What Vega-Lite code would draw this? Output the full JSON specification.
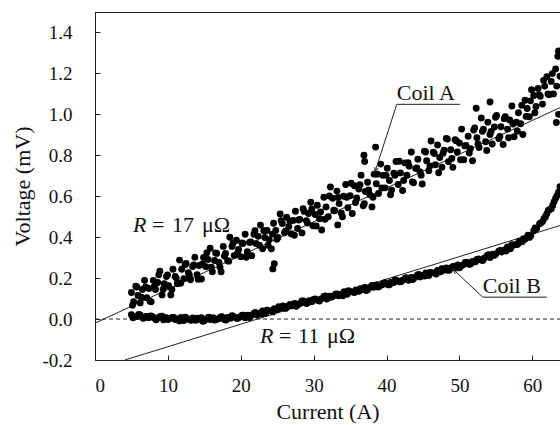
{
  "$schema": "https://vega.github.io/schema/vega-lite/v6.json",
  "width": 465,
  "height": 348,
  "autosize": {"type": "none"},
  "padding": {"left": 95, "top": 12, "right": 0, "bottom": 65},
  "background": "white",
  "config": {
    "view": {"stroke": "#222", "strokeWidth": 1},
    "font": "Liberation Serif",
    "axis": {
      "labelFont": "Liberation Serif",
      "labelFontSize": 19,
      "labelColor": "#111",
      "titleFont": "Liberation Serif",
      "titleFontSize": 22,
      "titleFontWeight": "normal",
      "titleColor": "#111",
      "domainColor": "#222",
      "tickColor": "#222",
      "grid": false,
      "tickSize": -5
    }
  },
  "datasets": {
    "pts": [
      {"coil":"A","x":5.0,"y":0.13},{"coil":"A","x":5.3,"y":0.085},{"coil":"A","x":5.6,"y":0.16},{"coil":"A","x":5.9,"y":0.115},{"coil":"A","x":6.2,"y":0.079},{"coil":"A","x":6.5,"y":0.144},{"coil":"A","x":6.8,"y":0.189},{"coil":"A","x":7.1,"y":0.104},{"coil":"A","x":7.4,"y":0.149},{"coil":"A","x":7.7,"y":0.084},
      {"coil":"A","x":8.0,"y":0.189},{"coil":"A","x":8.3,"y":0.144},{"coil":"A","x":8.6,"y":0.179},{"coil":"A","x":8.9,"y":0.234},{"coil":"A","x":9.2,"y":0.118},{"coil":"A","x":9.5,"y":0.173},{"coil":"A","x":9.8,"y":0.208},{"coil":"A","x":10.1,"y":0.163},{"coil":"A","x":10.4,"y":0.118},{"coil":"A","x":10.7,"y":0.243},
      {"coil":"A","x":11.0,"y":0.208},{"coil":"A","x":11.3,"y":0.173},{"coil":"A","x":11.6,"y":0.288},{"coil":"A","x":11.9,"y":0.243},{"coil":"A","x":12.2,"y":0.197},{"coil":"A","x":12.5,"y":0.272},{"coil":"A","x":12.8,"y":0.227},{"coil":"A","x":13.1,"y":0.192},{"coil":"A","x":13.4,"y":0.257},{"coil":"A","x":13.7,"y":0.302},
      {"coil":"A","x":14.0,"y":0.217},{"coil":"A","x":14.3,"y":0.262},{"coil":"A","x":14.6,"y":0.196},{"coil":"A","x":14.9,"y":0.301},{"coil":"A","x":15.2,"y":0.256},{"coil":"A","x":15.5,"y":0.291},{"coil":"A","x":15.8,"y":0.346},{"coil":"A","x":16.1,"y":0.231},{"coil":"A","x":16.4,"y":0.286},{"coil":"A","x":16.7,"y":0.321},
      {"coil":"A","x":17.0,"y":0.276},{"coil":"A","x":17.3,"y":0.231},{"coil":"A","x":17.6,"y":0.355},{"coil":"A","x":17.9,"y":0.32},{"coil":"A","x":18.2,"y":0.285},{"coil":"A","x":18.5,"y":0.40},{"coil":"A","x":18.8,"y":0.355},{"coil":"A","x":19.1,"y":0.31},{"coil":"A","x":19.4,"y":0.385},{"coil":"A","x":19.7,"y":0.34},
      {"coil":"A","x":20.0,"y":0.305},{"coil":"A","x":20.3,"y":0.369},{"coil":"A","x":20.6,"y":0.414},{"coil":"A","x":20.9,"y":0.329},{"coil":"A","x":21.2,"y":0.374},{"coil":"A","x":21.5,"y":0.309},{"coil":"A","x":21.8,"y":0.414},{"coil":"A","x":22.1,"y":0.369},{"coil":"A","x":22.4,"y":0.404},{"coil":"A","x":22.7,"y":0.459},
      {"coil":"A","x":23.0,"y":0.343},{"coil":"A","x":23.3,"y":0.398},{"coil":"A","x":23.6,"y":0.433},{"coil":"A","x":23.9,"y":0.388},{"coil":"A","x":24.2,"y":0.343},{"coil":"A","x":24.5,"y":0.468},{"coil":"A","x":24.8,"y":0.433},{"coil":"A","x":25.1,"y":0.398},{"coil":"A","x":25.4,"y":0.513},{"coil":"A","x":25.7,"y":0.467},
      {"coil":"A","x":26.0,"y":0.422},{"coil":"A","x":26.3,"y":0.497},{"coil":"A","x":26.6,"y":0.452},{"coil":"A","x":26.9,"y":0.417},{"coil":"A","x":27.2,"y":0.482},{"coil":"A","x":27.5,"y":0.527},{"coil":"A","x":27.8,"y":0.442},{"coil":"A","x":28.1,"y":0.487},{"coil":"A","x":28.4,"y":0.421},{"coil":"A","x":28.7,"y":0.526},
      {"coil":"A","x":29.0,"y":0.481},{"coil":"A","x":29.3,"y":0.516},{"coil":"A","x":29.6,"y":0.571},{"coil":"A","x":29.9,"y":0.456},{"coil":"A","x":30.2,"y":0.511},{"coil":"A","x":30.5,"y":0.556},{"coil":"A","x":30.8,"y":0.49},{"coil":"A","x":31.1,"y":0.435},{"coil":"A","x":31.4,"y":0.595},{"coil":"A","x":31.7,"y":0.548},
      {"coil":"A","x":32.0,"y":0.50},{"coil":"A","x":32.3,"y":0.645},{"coil":"A","x":32.6,"y":0.59},{"coil":"A","x":32.9,"y":0.529},{"coil":"A","x":33.2,"y":0.625},{"coil":"A","x":33.5,"y":0.564},{"coil":"A","x":33.8,"y":0.517},{"coil":"A","x":34.1,"y":0.60},{"coil":"A","x":34.4,"y":0.657},{"coil":"A","x":34.7,"y":0.544},
      {"coil":"A","x":35.0,"y":0.602},{"coil":"A","x":35.3,"y":0.516},{"coil":"A","x":35.6,"y":0.651},{"coil":"A","x":35.9,"y":0.591},{"coil":"A","x":36.2,"y":0.635},{"coil":"A","x":36.5,"y":0.703},{"coil":"A","x":36.8,"y":0.553},{"coil":"A","x":37.1,"y":0.623},{"coil":"A","x":37.4,"y":0.668},{"coil":"A","x":37.7,"y":0.607},
      {"coil":"A","x":38.0,"y":0.548},{"coil":"A","x":38.3,"y":0.708},{"coil":"A","x":38.6,"y":0.661},{"coil":"A","x":38.9,"y":0.613},{"coil":"A","x":39.2,"y":0.757},{"coil":"A","x":39.5,"y":0.702},{"coil":"A","x":39.8,"y":0.641},{"coil":"A","x":40.1,"y":0.737},{"coil":"A","x":40.4,"y":0.677},{"coil":"A","x":40.7,"y":0.63},
      {"coil":"A","x":41.0,"y":0.713},{"coil":"A","x":41.3,"y":0.77},{"coil":"A","x":41.6,"y":0.657},{"coil":"A","x":41.9,"y":0.714},{"coil":"A","x":42.2,"y":0.628},{"coil":"A","x":42.5,"y":0.763},{"coil":"A","x":42.8,"y":0.703},{"coil":"A","x":43.1,"y":0.747},{"coil":"A","x":43.4,"y":0.816},{"coil":"A","x":43.7,"y":0.666},
      {"coil":"A","x":44.0,"y":0.736},{"coil":"A","x":44.3,"y":0.781},{"coil":"A","x":44.6,"y":0.719},{"coil":"A","x":44.9,"y":0.66},{"coil":"A","x":45.2,"y":0.82},{"coil":"A","x":45.5,"y":0.773},{"coil":"A","x":45.8,"y":0.725},{"coil":"A","x":46.1,"y":0.87},{"coil":"A","x":46.4,"y":0.815},{"coil":"A","x":46.7,"y":0.754},
      {"coil":"A","x":47.0,"y":0.85},{"coil":"A","x":47.3,"y":0.789},{"coil":"A","x":47.6,"y":0.742},{"coil":"A","x":47.9,"y":0.825},{"coil":"A","x":48.2,"y":0.882},{"coil":"A","x":48.5,"y":0.769},{"coil":"A","x":48.8,"y":0.827},{"coil":"A","x":49.1,"y":0.741},{"coil":"A","x":49.4,"y":0.876},{"coil":"A","x":49.7,"y":0.816},
      {"coil":"A","x":50.0,"y":0.86},{"coil":"A","x":50.3,"y":0.928},{"coil":"A","x":50.6,"y":0.778},{"coil":"A","x":50.9,"y":0.848},{"coil":"A","x":51.2,"y":0.893},{"coil":"A","x":51.5,"y":0.832},{"coil":"A","x":51.8,"y":0.773},{"coil":"A","x":52.1,"y":0.933},{"coil":"A","x":52.4,"y":0.886},{"coil":"A","x":52.7,"y":0.838},
      {"coil":"A","x":53.0,"y":0.982},{"coil":"A","x":53.3,"y":0.927},{"coil":"A","x":53.6,"y":0.866},{"coil":"A","x":53.9,"y":0.962},{"coil":"A","x":54.2,"y":0.902},{"coil":"A","x":54.5,"y":0.855},{"coil":"A","x":54.8,"y":0.938},{"coil":"A","x":55.1,"y":0.995},{"coil":"A","x":55.4,"y":0.882},{"coil":"A","x":55.7,"y":0.939},
      {"coil":"A","x":56.0,"y":0.853},{"coil":"A","x":56.3,"y":0.988},{"coil":"A","x":56.6,"y":0.928},{"coil":"A","x":56.9,"y":0.972},{"coil":"A","x":57.2,"y":1.041},{"coil":"A","x":57.5,"y":0.891},{"coil":"A","x":57.8,"y":0.961},{"coil":"A","x":58.1,"y":1.008},{"coil":"A","x":58.4,"y":0.954},{"coil":"A","x":58.7,"y":0.902},
      {"coil":"A","x":59.0,"y":1.069},{"coil":"A","x":59.3,"y":1.029},{"coil":"A","x":59.6,"y":0.988},{"coil":"A","x":59.9,"y":1.12},{"coil":"A","x":60.2,"y":1.092},{"coil":"A","x":60.5,"y":1.038},{"coil":"A","x":60.8,"y":1.126},{"coil":"A","x":61.1,"y":1.088},{"coil":"A","x":61.4,"y":1.05},{"coil":"A","x":61.7,"y":1.138},
      {"coil":"A","x":62.0,"y":1.184},{"coil":"A","x":62.3,"y":1.096},{"coil":"A","x":62.6,"y":1.161},{"coil":"A","x":62.9,"y":1.10},{"coil":"A","x":63.2,"y":1.222},{"coil":"A","x":63.5,"y":1.284},{"coil":"A","x":63.8,"y":1.186},
      {"coil":"A","x":24.4,"y":0.245},{"coil":"A","x":24.6,"y":0.27},{"coil":"A","x":36.9,"y":0.80},{"coil":"A","x":37.0,"y":0.77},{"coil":"A","x":52.3,"y":1.03},{"coil":"A","x":54.2,"y":1.06},{"coil":"A","x":33.3,"y":0.46},{"coil":"A","x":38.5,"y":0.84},{"coil":"A","x":63.6,"y":1.31},{"coil":"A","x":63.3,"y":0.96},{"coil":"A","x":63.6,"y":1.0},
      {"coil":"A","x":5.15,"y":0.067},{"coil":"A","x":5.75,"y":0.157},{"coil":"A","x":6.35,"y":0.107},{"coil":"A","x":6.95,"y":0.157},{"coil":"A","x":7.55,"y":0.087},{"coil":"A","x":8.15,"y":0.161},{"coil":"A","x":8.75,"y":0.216},{"coil":"A","x":9.35,"y":0.146},{"coil":"A","x":9.95,"y":0.216},{"coil":"A","x":10.55,"y":0.145},
      {"coil":"A","x":11.15,"y":0.20},{"coil":"A","x":11.75,"y":0.175},{"coil":"A","x":12.35,"y":0.265},{"coil":"A","x":12.95,"y":0.215},{"coil":"A","x":13.55,"y":0.264},{"coil":"A","x":14.15,"y":0.194},{"coil":"A","x":14.75,"y":0.269},{"coil":"A","x":15.35,"y":0.324},{"coil":"A","x":15.95,"y":0.253},{"coil":"A","x":16.55,"y":0.323},
      {"coil":"A","x":17.15,"y":0.253},{"coil":"A","x":17.75,"y":0.308},{"coil":"A","x":18.35,"y":0.283},{"coil":"A","x":18.95,"y":0.372},{"coil":"A","x":19.55,"y":0.322},{"coil":"A","x":20.15,"y":0.372},{"coil":"A","x":20.75,"y":0.302},{"coil":"A","x":21.35,"y":0.376},{"coil":"A","x":21.95,"y":0.431},{"coil":"A","x":22.55,"y":0.361},
      {"coil":"A","x":23.15,"y":0.431},{"coil":"A","x":23.75,"y":0.361},{"coil":"A","x":24.35,"y":0.415},{"coil":"A","x":24.95,"y":0.39},{"coil":"A","x":25.55,"y":0.48},{"coil":"A","x":26.15,"y":0.43},{"coil":"A","x":26.75,"y":0.479},{"coil":"A","x":27.35,"y":0.409},{"coil":"A","x":27.95,"y":0.484},{"coil":"A","x":28.55,"y":0.539},
      {"coil":"A","x":29.15,"y":0.469},{"coil":"A","x":29.75,"y":0.538},{"coil":"A","x":30.35,"y":0.455},{"coil":"A","x":30.95,"y":0.523},{"coil":"A","x":31.55,"y":0.488},{"coil":"A","x":32.15,"y":0.601},{"coil":"A","x":32.75,"y":0.532},{"coil":"A","x":33.35,"y":0.594},{"coil":"A","x":33.95,"y":0.50},{"coil":"A","x":34.55,"y":0.595},
      {"coil":"A","x":35.15,"y":0.663},{"coil":"A","x":35.75,"y":0.569},{"coil":"A","x":36.35,"y":0.656},{"coil":"A","x":36.95,"y":0.563},{"coil":"A","x":37.55,"y":0.631},{"coil":"A","x":38.15,"y":0.595},{"coil":"A","x":38.75,"y":0.708},{"coil":"A","x":39.35,"y":0.64},{"coil":"A","x":39.95,"y":0.702},{"coil":"A","x":40.55,"y":0.607},
      {"coil":"A","x":41.15,"y":0.702},{"coil":"A","x":41.75,"y":0.771},{"coil":"A","x":42.35,"y":0.677},{"coil":"A","x":42.95,"y":0.764},{"coil":"A","x":43.55,"y":0.67},{"coil":"A","x":44.15,"y":0.738},{"coil":"A","x":44.75,"y":0.703},{"coil":"A","x":45.35,"y":0.816},{"coil":"A","x":45.95,"y":0.748},{"coil":"A","x":46.55,"y":0.809},
      {"coil":"A","x":47.15,"y":0.715},{"coil":"A","x":47.75,"y":0.81},{"coil":"A","x":48.35,"y":0.879},{"coil":"A","x":48.95,"y":0.784},{"coil":"A","x":49.55,"y":0.871},{"coil":"A","x":50.15,"y":0.778},{"coil":"A","x":50.75,"y":0.846},{"coil":"A","x":51.35,"y":0.811},{"coil":"A","x":51.95,"y":0.923},{"coil":"A","x":52.55,"y":0.855},
      {"coil":"A","x":53.15,"y":0.917},{"coil":"A","x":53.75,"y":0.823},{"coil":"A","x":54.35,"y":0.917},{"coil":"A","x":54.95,"y":0.986},{"coil":"A","x":55.55,"y":0.892},{"coil":"A","x":56.15,"y":0.979},{"coil":"A","x":56.75,"y":0.886},{"coil":"A","x":57.35,"y":0.953},{"coil":"A","x":57.95,"y":0.918},{"coil":"A","x":58.55,"y":1.044},
      {"coil":"A","x":59.15,"y":0.99},{"coil":"A","x":59.75,"y":1.066},{"coil":"A","x":60.35,"y":1.008},{"coil":"A","x":60.95,"y":1.095},{"coil":"A","x":61.55,"y":1.166},{"coil":"A","x":62.15,"y":1.10},{"coil":"A","x":62.75,"y":1.199},{"coil":"A","x":63.35,"y":1.138},
      {"coil":"B","x":5.0,"y":0.021},{"coil":"B","x":5.4,"y":0.010},{"coil":"B","x":5.8,"y":0.013},{"coil":"B","x":6.2,"y":0.020},{"coil":"B","x":6.6,"y":0.004},{"coil":"B","x":7.0,"y":0.013},{"coil":"B","x":7.4,"y":0.007},{"coil":"B","x":7.8,"y":0.014},{"coil":"B","x":8.2,"y":0.003},{"coil":"B","x":8.6,"y":0.006},
      {"coil":"B","x":9.0,"y":0.013},{"coil":"B","x":9.4,"y":-0.003},{"coil":"B","x":9.8,"y":0.006},{"coil":"B","x":10.2,"y":0.001},{"coil":"B","x":10.6,"y":0.008},{"coil":"B","x":11.0,"y":-0.002},{"coil":"B","x":11.4,"y":0.001},{"coil":"B","x":11.8,"y":0.008},{"coil":"B","x":12.2,"y":-0.007},{"coil":"B","x":12.6,"y":0.002},
      {"coil":"B","x":13.0,"y":-0.003},{"coil":"B","x":13.4,"y":0.005},{"coil":"B","x":13.8,"y":-0.006},{"coil":"B","x":14.2,"y":-0.002},{"coil":"B","x":14.6,"y":0.006},{"coil":"B","x":15.0,"y":-0.008},{"coil":"B","x":15.4,"y":0.002},{"coil":"B","x":15.8,"y":-0.002},{"coil":"B","x":16.2,"y":0.006},{"coil":"B","x":16.6,"y":-0.003},
      {"coil":"B","x":17.0,"y":0.002},{"coil":"B","x":17.4,"y":0.011},{"coil":"B","x":17.8,"y":-0.003},{"coil":"B","x":18.2,"y":0.008},{"coil":"B","x":18.6,"y":0.004},{"coil":"B","x":19.0,"y":0.013},{"coil":"B","x":19.4,"y":0.004},{"coil":"B","x":19.8,"y":0.009},{"coil":"B","x":20.2,"y":0.019},{"coil":"B","x":20.6,"y":0.007},
      {"coil":"B","x":21.0,"y":0.019},{"coil":"B","x":21.4,"y":0.016},{"coil":"B","x":21.8,"y":0.027},{"coil":"B","x":22.2,"y":0.020},{"coil":"B","x":22.6,"y":0.027},{"coil":"B","x":23.0,"y":0.039},{"coil":"B","x":23.4,"y":0.028},{"coil":"B","x":23.8,"y":0.041},{"coil":"B","x":24.2,"y":0.040},{"coil":"B","x":24.6,"y":0.051},
      {"coil":"B","x":25.0,"y":0.045},{"coil":"B","x":25.4,"y":0.053},{"coil":"B","x":25.8,"y":0.064},{"coil":"B","x":26.2,"y":0.053},{"coil":"B","x":26.6,"y":0.066},{"coil":"B","x":27.0,"y":0.065},{"coil":"B","x":27.4,"y":0.076},{"coil":"B","x":27.8,"y":0.069},{"coil":"B","x":28.2,"y":0.077},{"coil":"B","x":28.6,"y":0.088},
      {"coil":"B","x":29.0,"y":0.076},{"coil":"B","x":29.4,"y":0.089},{"coil":"B","x":29.8,"y":0.086},{"coil":"B","x":30.2,"y":0.098},{"coil":"B","x":30.6,"y":0.091},{"coil":"B","x":31.0,"y":0.098},{"coil":"B","x":31.4,"y":0.110},{"coil":"B","x":31.8,"y":0.098},{"coil":"B","x":32.2,"y":0.112},{"coil":"B","x":32.6,"y":0.110},
      {"coil":"B","x":33.0,"y":0.121},{"coil":"B","x":33.4,"y":0.114},{"coil":"B","x":33.8,"y":0.121},{"coil":"B","x":34.2,"y":0.133},{"coil":"B","x":34.6,"y":0.121},{"coil":"B","x":35.0,"y":0.134},{"coil":"B","x":35.4,"y":0.132},{"coil":"B","x":35.8,"y":0.142},{"coil":"B","x":36.2,"y":0.136},{"coil":"B","x":36.6,"y":0.143},
      {"coil":"B","x":37.0,"y":0.154},{"coil":"B","x":37.4,"y":0.143},{"coil":"B","x":37.8,"y":0.156},{"coil":"B","x":38.2,"y":0.155},{"coil":"B","x":38.6,"y":0.166},{"coil":"B","x":39.0,"y":0.159},{"coil":"B","x":39.4,"y":0.167},{"coil":"B","x":39.8,"y":0.178},{"coil":"B","x":40.2,"y":0.167},{"coil":"B","x":40.6,"y":0.180},
      {"coil":"B","x":41.0,"y":0.178},{"coil":"B","x":41.4,"y":0.189},{"coil":"B","x":41.8,"y":0.182},{"coil":"B","x":42.2,"y":0.190},{"coil":"B","x":42.6,"y":0.201},{"coil":"B","x":43.0,"y":0.189},{"coil":"B","x":43.4,"y":0.203},{"coil":"B","x":43.8,"y":0.201},{"coil":"B","x":44.2,"y":0.213},{"coil":"B","x":44.6,"y":0.206},
      {"coil":"B","x":45.0,"y":0.213},{"coil":"B","x":45.4,"y":0.225},{"coil":"B","x":45.8,"y":0.213},{"coil":"B","x":46.2,"y":0.227},{"coil":"B","x":46.6,"y":0.225},{"coil":"B","x":47.0,"y":0.237},{"coil":"B","x":47.4,"y":0.231},{"coil":"B","x":47.8,"y":0.238},{"coil":"B","x":48.2,"y":0.250},{"coil":"B","x":48.6,"y":0.239},
      {"coil":"B","x":49.0,"y":0.253},{"coil":"B","x":49.4,"y":0.252},{"coil":"B","x":49.8,"y":0.264},{"coil":"B","x":50.2,"y":0.258},{"coil":"B","x":50.6,"y":0.266},{"coil":"B","x":51.0,"y":0.278},{"coil":"B","x":51.4,"y":0.267},{"coil":"B","x":51.8,"y":0.281},{"coil":"B","x":52.2,"y":0.280},{"coil":"B","x":52.6,"y":0.293},
      {"coil":"B","x":53.0,"y":0.288},{"coil":"B","x":53.4,"y":0.297},{"coil":"B","x":53.8,"y":0.310},{"coil":"B","x":54.2,"y":0.301},{"coil":"B","x":54.6,"y":0.317},{"coil":"B","x":55.0,"y":0.318},{"coil":"B","x":55.4,"y":0.332},{"coil":"B","x":55.8,"y":0.328},{"coil":"B","x":56.2,"y":0.338},{"coil":"B","x":56.6,"y":0.352},
      {"coil":"B","x":57.0,"y":0.343},{"coil":"B","x":57.4,"y":0.361},{"coil":"B","x":57.8,"y":0.364},{"coil":"B","x":58.2,"y":0.380},{"coil":"B","x":58.6,"y":0.378},{"coil":"B","x":59.0,"y":0.390},{"coil":"B","x":59.4,"y":0.410},{"coil":"B","x":59.8,"y":0.407},{"coil":"B","x":60.2,"y":0.431},{"coil":"B","x":60.6,"y":0.442},
      {"coil":"B","x":61.0,"y":0.466},{"coil":"B","x":61.4,"y":0.476},{"coil":"B","x":61.8,"y":0.500},{"coil":"B","x":62.2,"y":0.530},{"coil":"B","x":62.6,"y":0.539},{"coil":"B","x":63.0,"y":0.573},{"coil":"B","x":63.4,"y":0.603},{"coil":"B","x":63.8,"y":0.646},
      {"coil":"B","x":63.6,"y":0.62},{"coil":"B","x":63.2,"y":0.59},{"coil":"B","x":62.8,"y":0.555},{"coil":"B","x":62.4,"y":0.535},{"coil":"B","x":62.0,"y":0.515},{"coil":"B","x":61.6,"y":0.49},{"coil":"B","x":61.2,"y":0.47},
      {"coil":"B","x":5.2,"y":0.006},{"coil":"B","x":6.0,"y":0.022},{"coil":"B","x":6.8,"y":0.006},{"coil":"B","x":7.6,"y":0.015},{"coil":"B","x":8.4,"y":-0.003},{"coil":"B","x":9.2,"y":0.014},{"coil":"B","x":10.0,"y":-0.002},{"coil":"B","x":10.8,"y":0.008},{"coil":"B","x":11.6,"y":-0.009},{"coil":"B","x":12.4,"y":0.009},
      {"coil":"B","x":13.2,"y":-0.006},{"coil":"B","x":14.0,"y":0.004},{"coil":"B","x":14.8,"y":-0.011},{"coil":"B","x":15.6,"y":0.009},{"coil":"B","x":16.4,"y":-0.005},{"coil":"B","x":17.2,"y":0.009},{"coil":"B","x":18.0,"y":-0.005},{"coil":"B","x":18.8,"y":0.016},{"coil":"B","x":19.6,"y":0.004},{"coil":"B","x":20.4,"y":0.019},
      {"coil":"B","x":21.2,"y":0.008},{"coil":"B","x":22.0,"y":0.032},{"coil":"B","x":22.8,"y":0.024},{"coil":"B","x":23.6,"y":0.043},{"coil":"B","x":24.4,"y":0.035},{"coil":"B","x":25.2,"y":0.060},{"coil":"B","x":26.0,"y":0.053},{"coil":"B","x":26.8,"y":0.071},{"coil":"B","x":27.6,"y":0.063},{"coil":"B","x":28.4,"y":0.088},
      {"coil":"B","x":29.2,"y":0.080},{"coil":"B","x":30.0,"y":0.096},{"coil":"B","x":30.8,"y":0.088},{"coil":"B","x":31.6,"y":0.113},{"coil":"B","x":32.4,"y":0.106},{"coil":"B","x":33.2,"y":0.123},{"coil":"B","x":34.0,"y":0.114},{"coil":"B","x":34.8,"y":0.139},{"coil":"B","x":35.6,"y":0.130},{"coil":"B","x":36.4,"y":0.148},
      {"coil":"B","x":37.2,"y":0.139},{"coil":"B","x":38.0,"y":0.164},{"coil":"B","x":38.8,"y":0.157},{"coil":"B","x":39.6,"y":0.175},{"coil":"B","x":40.4,"y":0.167},{"coil":"B","x":41.2,"y":0.191},{"coil":"B","x":42.0,"y":0.183},{"coil":"B","x":42.8,"y":0.201},{"coil":"B","x":43.6,"y":0.193},{"coil":"B","x":44.4,"y":0.218},
      {"coil":"B","x":45.2,"y":0.210},{"coil":"B","x":46.0,"y":0.228},{"coil":"B","x":46.8,"y":0.220},{"coil":"B","x":47.6,"y":0.246},{"coil":"B","x":48.4,"y":0.239},{"coil":"B","x":49.2,"y":0.258},{"coil":"B","x":50.0,"y":0.251},{"coil":"B","x":50.8,"y":0.277},{"coil":"B","x":51.6,"y":0.271},{"coil":"B","x":52.4,"y":0.291},
      {"coil":"B","x":53.2,"y":0.286},{"coil":"B","x":54.0,"y":0.314},{"coil":"B","x":54.8,"y":0.312},{"coil":"B","x":55.6,"y":0.335},{"coil":"B","x":56.4,"y":0.332},{"coil":"B","x":57.2,"y":0.363},{"coil":"B","x":58.0,"y":0.365},{"coil":"B","x":58.8,"y":0.392},{"coil":"B","x":59.6,"y":0.399},{"coil":"B","x":60.4,"y":0.445}
    ],
    "fits": [
      {"fit":"A","x":0,"y":-0.02},{"fit":"A","x":63.8,"y":1.033},
      {"fit":"B","x":4.1,"y":-0.2},{"fit":"B","x":63.8,"y":0.457}
    ],
    "zero": [{"x":0,"y":0},{"x":63.8,"y":0}],
    "leaders": [
      {"x":41.4,"y":1.049,"x2":38.4,"y2":0.717},
      {"x":41.4,"y":1.049,"x2":50.1,"y2":1.049},
      {"x":53.2,"y":0.107,"x2":49.1,"y2":0.244},
      {"x":53.2,"y":0.107,"x2":62.0,"y2":0.107}
    ],
    "headA": [{"x":38.4,"y":0.717}],
    "headB": [{"x":49.1,"y":0.244}],
    "labels": [
      {"t":"Coil A","x":41.4,"y":1.068,"italic":false},
      {"t":"Coil B","x":53.2,"y":0.127,"italic":false},
      {"t":"R","x":5.21,"y":0.424,"italic":true},
      {"t":"=","x":7.82,"y":0.424,"italic":false},
      {"t":"17","x":10.56,"y":0.424,"italic":false},
      {"t":"μΩ","x":14.68,"y":0.424,"italic":false},
      {"t":"R","x":22.63,"y":-0.117,"italic":true},
      {"t":"=","x":25.24,"y":-0.117,"italic":false},
      {"t":"11","x":27.85,"y":-0.117,"italic":false},
      {"t":"μΩ","x":31.82,"y":-0.117,"italic":false}
    ]
  },
  "layer": [
    {
      "data": {"name": "zero"},
      "mark": {"type": "line", "strokeDash": [4, 3], "strokeWidth": 1, "color": "#222", "clip": true},
      "encoding": {
        "x": {
          "field": "x", "type": "quantitative",
          "scale": {"domain": [0, 63.8], "nice": false, "zero": false},
          "axis": {
            "title": "Current (A)",
            "values": [0, 5, 10, 15, 20, 25, 30, 35, 40, 45, 50, 55, 60],
            "labelExpr": "datum.value % 10 === 0 ? datum.label : ''",
            "format": "d",
            "labelFont": "Liberation Serif",
            "labelFontSize": 19,
            "titleFont": "Liberation Serif",
            "titleFontSize": 22,
            "labelPadding": 21,
            "titlePadding": 6
          }
        },
        "y": {
          "field": "y", "type": "quantitative",
          "scale": {"domain": [-0.2, 1.5], "nice": false, "zero": false},
          "axis": {
            "title": "Voltage (mV)",
            "values": [-0.2, -0.1, 0, 0.1, 0.2, 0.3, 0.4, 0.5, 0.6, 0.7, 0.8, 0.9, 1.0, 1.1, 1.2, 1.3, 1.4],
            "labelExpr": "abs(round(datum.value * 10)) % 2 === 0 ? replace(format(datum.value, '.1f'), '−', '-') : ''",
            "labelFont": "Liberation Serif",
            "labelFontSize": 19,
            "titleFont": "Liberation Serif",
            "titleFontSize": 22,
            "labelPadding": 28,
            "titlePadding": 7
          }
        }
      }
    },
    {
      "data": {"name": "fits"},
      "mark": {"type": "line", "strokeWidth": 1, "color": "#222", "clip": true},
      "encoding": {
        "x": {"field": "x", "type": "quantitative"},
        "y": {"field": "y", "type": "quantitative"},
        "detail": {"field": "fit"}
      }
    },
    {
      "data": {"name": "pts"},
      "mark": {"type": "point", "filled": true, "shape": "circle", "size": 48, "color": "black", "opacity": 1, "clip": true},
      "encoding": {
        "x": {"field": "x", "type": "quantitative"},
        "y": {"field": "y", "type": "quantitative"}
      }
    },
    {
      "data": {"name": "leaders"},
      "mark": {"type": "rule", "color": "#222", "strokeWidth": 1},
      "encoding": {
        "x": {"field": "x", "type": "quantitative"},
        "y": {"field": "y", "type": "quantitative"},
        "x2": {"field": "x2"},
        "y2": {"field": "y2"}
      }
    },
    {
      "data": {"name": "headA"},
      "mark": {"type": "point", "shape": "M-0.35,1L0,0L0.35,1", "filled": false, "strokeWidth": 1, "color": "#222", "size": 100, "angle": 198, "opacity": 1},
      "encoding": {
        "x": {"field": "x", "type": "quantitative"},
        "y": {"field": "y", "type": "quantitative"}
      }
    },
    {
      "data": {"name": "headB"},
      "mark": {"type": "point", "shape": "M-0.35,1L0,0L0.35,1", "filled": false, "strokeWidth": 1, "color": "#222", "size": 100, "angle": 313, "opacity": 1},
      "encoding": {
        "x": {"field": "x", "type": "quantitative"},
        "y": {"field": "y", "type": "quantitative"}
      }
    },
    {
      "data": {"name": "labels"},
      "transform": [{"filter": "!datum.italic"}],
      "mark": {"type": "text", "font": "Liberation Serif", "fontSize": 22, "align": "left", "baseline": "alphabetic", "color": "#111"},
      "encoding": {
        "x": {"field": "x", "type": "quantitative"},
        "y": {"field": "y", "type": "quantitative"},
        "text": {"field": "t"}
      }
    },
    {
      "data": {"name": "labels"},
      "transform": [{"filter": "datum.italic"}],
      "mark": {"type": "text", "font": "Liberation Serif", "fontSize": 22, "fontStyle": "italic", "align": "left", "baseline": "alphabetic", "color": "#111"},
      "encoding": {
        "x": {"field": "x", "type": "quantitative"},
        "y": {"field": "y", "type": "quantitative"},
        "text": {"field": "t"}
      }
    }
  ]
}
